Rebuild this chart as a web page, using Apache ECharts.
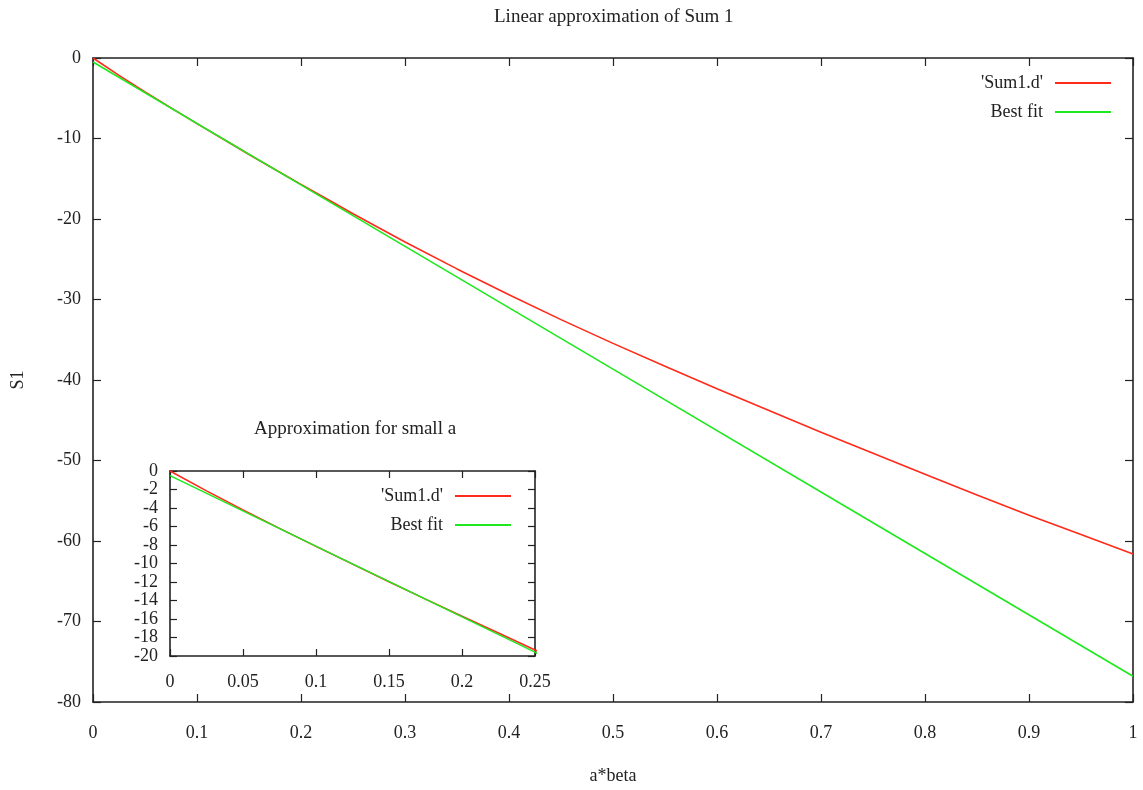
<!DOCTYPE html>
<html>
<head>
<meta charset="utf-8">
<script src="https://cdn.jsdelivr.net/npm/echarts@6/dist/echarts.min.js"></script>
<style>
  html, body { margin: 0; padding: 0; background: #fff; }
  #chart { width: 1143px; height: 790px; }
</style>
</head>
<body>
<div id="chart"></div>
<script>
// a*beta values and the summed S1
var sumX = [0, 0.025, 0.05, 0.075, 0.1, 0.125, 0.15, 0.175, 0.2, 0.225, 0.25,
  0.3, 0.35, 0.4, 0.45, 0.5, 0.55, 0.6, 0.65, 0.7, 0.75, 0.8, 0.85, 0.9, 0.95, 1];
var sumY = [0, -2.15, -4.2, -6.2, -8.15, -10.07, -11.98, -13.85, -15.7, -17.52, -19.35,
  -22.85, -26.2, -29.4, -32.5, -35.45, -38.3, -41.1, -43.8, -46.5, -49.1, -51.7, -54.3, -56.8, -59.2, -61.6];

// best fit straight line
var fitX = [0, 0.25, 0.5, 0.75, 1];
var fitY = [-0.5, -19.58, -38.65, -57.73, -76.8];

var seriesNames = ["'Sum1.d'", "Best fit"];

function pairs(xs, ys) {
  return xs.map(function (x, i) { return [x, ys[i]]; });
}

var font = "Liberation Serif";
var ink = "#222";
var red = "#ff2a1a";
var green = "#1ee81e";

function xAx(grid, pos, max, interval, labels, margin, len) {
  return {
    type: "value", gridIndex: grid, position: pos, min: 0, max: max, interval: interval,
    axisLine: { onZero: false, lineStyle: { color: ink, width: 1.6 } },
    axisTick: { inside: true, length: len, lineStyle: { color: ink, width: 1.2 } },
    axisLabel: { show: labels, margin: margin, color: ink, fontFamily: font, fontSize: 18 },
    splitLine: { show: false }
  };
}
function yAx(grid, pos, min, interval, labels, len) {
  return {
    type: "value", gridIndex: grid, position: pos, min: min, max: 0, interval: interval,
    axisLine: { onZero: false, lineStyle: { color: ink, width: 1.6 } },
    axisTick: { inside: true, length: len, lineStyle: { color: ink, width: 1.2 } },
    axisLabel: { show: labels, margin: 12, color: ink, fontFamily: font, fontSize: 18 },
    splitLine: { show: false }
  };
}

var chart = echarts.init(document.getElementById("chart"));

var xMain = xAx(0, "bottom", 1, 0.1, true, 22, 8);
xMain.name = "a*beta";
xMain.nameLocation = "middle";
xMain.nameGap = 65;
xMain.nameTextStyle = { color: ink, fontFamily: font, fontSize: 18 };

var yMain = yAx(0, "left", -80, 10, true, 8);
yMain.name = "S1";
yMain.nameLocation = "middle";
yMain.nameGap = 66;
yMain.nameTextStyle = { color: ink, fontFamily: font, fontSize: 18 };

var line = function (name, data, xi, yi, color) {
  return {
    name: name, type: "line", xAxisIndex: xi, yAxisIndex: yi, data: data,
    showSymbol: false, symbol: "none", clip: true, animation: false,
    lineStyle: { color: color, width: 1.6 }, itemStyle: { color: color }
  };
};

var legendBase = {
  orient: "vertical", align: "right", icon: "rect",
  itemWidth: 56, itemHeight: 2, itemGap: 11,
  textStyle: { color: ink, fontFamily: font, fontSize: 18, padding: [0, 7, 0, 0] },
  data: seriesNames
};

chart.setOption({
  backgroundColor: "#fff",
  animation: false,
  title: [
    { text: "Linear approximation of Sum 1", left: 489, top: 3,
      textStyle: { color: ink, fontFamily: font, fontSize: 19, fontWeight: "normal" } },
    { text: "Approximation for small a", left: 249, top: 415,
      textStyle: { color: ink, fontFamily: font, fontSize: 19, fontWeight: "normal" } }
  ],
  legend: [
    Object.assign({}, legendBase, { right: 27, top: 69 }),
    Object.assign({}, legendBase, { right: 627, top: 482 })
  ],
  grid: [
    { left: 93, top: 58, right: 10, bottom: 87 },
    { left: 170, top: 471, right: 608, bottom: 134 }
  ],
  xAxis: [
    xMain,
    xAx(0, "top", 1, 0.1, false, 22, 8),
    xAx(1, "bottom", 0.25, 0.05, true, 17, 7),
    xAx(1, "top", 0.25, 0.05, false, 17, 7)
  ],
  yAxis: [
    yMain,
    yAx(0, "right", -80, 10, false, 8),
    yAx(1, "left", -20, 2, true, 7),
    yAx(1, "right", -20, 2, false, 7)
  ],
  series: [
    line(seriesNames[0], pairs(sumX, sumY), 0, 0, red),
    line(seriesNames[1], pairs(fitX, fitY), 0, 0, green),
    line(seriesNames[0], pairs(sumX, sumY), 2, 2, red),
    line(seriesNames[1], pairs(fitX, fitY), 2, 2, green)
  ]
});
</script>
</body>
</html>
